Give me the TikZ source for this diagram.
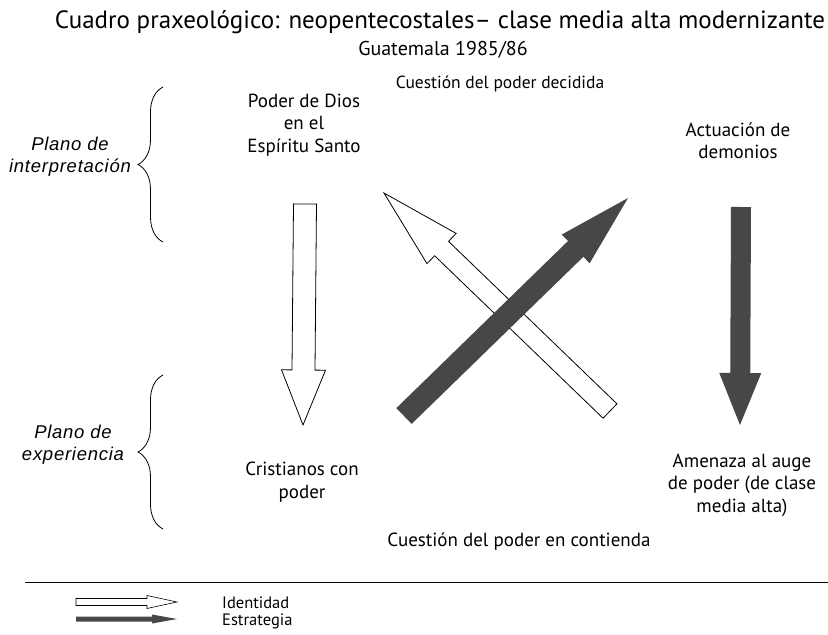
\documentclass[tikz,border=0pt]{standalone}
\usepackage{fontspec}
\setmainfont{PT Sans}
\newfontfamily\planofont[LetterSpace=4]{Liberation Sans}
\usetikzlibrary{calc,decorations.pathreplacing}

% block arrow: [style]{from}{to}{half shaft}{half head}{head length}
\newcommand{\blockarrow}[6][]{%
  \path[#1] let \p1=($(#3)-(#2)$), \n1={atan2(\y1,\x1)}, \n2={veclen(\x1,\y1)-#6} in
    ($(#2)+(\n1+90:#4)$) -- ($(#2)+(\n1:\n2)+(\n1+90:#4)$)
    -- ($(#2)+(\n1:\n2)+(\n1+90:#5)$) -- (#3)
    -- ($(#2)+(\n1:\n2)+(\n1-90:#5)$) -- ($(#2)+(\n1:\n2)+(\n1-90:#4)$)
    -- ($(#2)+(\n1-90:#4)$) -- cycle;}

\tikzset{
  txt/.style={align=center, font=\fontsize{19}{22.5}\selectfont, inner sep=0pt},
  plano/.style={align=center, font=\planofont\itshape\fontsize{18.5}{22}\selectfont, inner sep=0pt},
  identidad/.style={draw=black, fill=white, line width=0.8pt, line join=miter},
  estrategia/.style={fill=black!72},
  llave/.style={decorate, decoration={brace, amplitude=25pt}, line width=0.8pt},
}

\begin{document}
\begin{tikzpicture}[x=1pt, y=-1pt]
    \useasboundingbox (0,0) rectangle (828,635);

    \node (titulo) [txt, font=\fontsize{25}{28}\selectfont] at (440,22) {Cuadro praxeológico: neopentecostales-- clase media alta modernizante};
    \node (lugar) [txt, font=\fontsize{20}{22}\selectfont] at (443,50) {Guatemala 1985/86};
    \node (decidida) [txt, font=\fontsize{17.5}{22}\selectfont] at (500,84) {Cuestión del poder decidida};
    \node (contienda) [txt] at (519,542) {Cuestión del poder en contienda};

    \node (interp) [plano] at (70,157) {Plano de\\interpretación};
    \node (exper) [plano] at (73,445) {Plano de\\experiencia};

    \node (dios) [txt] at (304,125) {Poder de Dios\\en el\\Espíritu Santo};
    \node (demonios) [txt] at (738,141) {Actuación de\\demonios};
    \node (cristianos) [txt] at (302,482) {Cristianos con\\poder};
    \node (amenaza) [txt] at (742,485) {Amenaza al auge\\de poder (de clase\\media alta)};

    % braces
    \draw[llave] (163,242) -- (163,87);
    \draw[llave] (163,529) -- (163,375);

    % arrows
    \coordinate (id1a) at (305,204);
    \coordinate (id1b) at (303,425);
    \coordinate (es1a) at (741,207);
    \coordinate (es1b) at (740,425);
    \coordinate (id2a) at (610,411);
    \coordinate (id2b) at (384,193);
    \coordinate (es2a) at (404,416);
    \coordinate (es2b) at (628,198);

    \blockarrow[identidad]{id1a}{id1b}{11.5pt}{22pt}{55}
    \blockarrow[estrategia]{es1a}{es1b}{10pt}{21pt}{52}
    \blockarrow[identidad]{id2a}{id2b}{10pt}{21pt}{80}
    \blockarrow[estrategia]{es2a}{es2b}{11pt}{20pt}{73}

    % legend
    \draw[line width=0.8pt] (25,582) -- (828,582);
    \coordinate (ley1a) at (76,602);
    \coordinate (ley1b) at (177,602);
    \coordinate (ley2a) at (76,619);
    \coordinate (ley2b) at (177,619);
    \blockarrow[identidad, line width=0.6pt]{ley1a}{ley1b}{3.5pt}{6.5pt}{30}
    \blockarrow[estrategia]{ley2a}{ley2b}{2.5pt}{4.5pt}{25}
    \node (leyid) [txt, anchor=west, font=\fontsize{16.5}{18}\selectfont] at (222,603) {Identidad};
    \node (leyes) [txt, anchor=west, font=\fontsize{16.5}{18}\selectfont] at (222,621) {Estrategia};
\end{tikzpicture}
\end{document}
